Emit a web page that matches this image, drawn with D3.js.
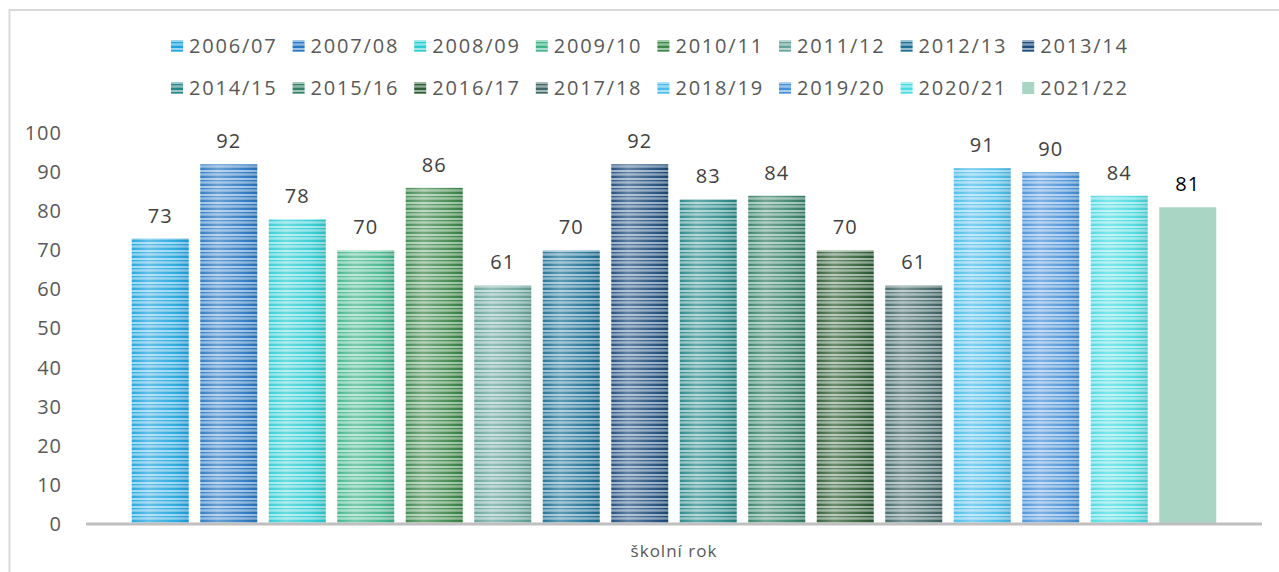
<!DOCTYPE html>
<html>
<head>
<meta charset="utf-8">
<script src="https://cdn.jsdelivr.net/npm/d3@7"></script>
<style>
  body { margin: 0; background: #fff; }
  svg { display: block; font-family: "Open Sans", sans-serif; }
</style>
</head>
<body>
<svg id="chart" width="1279" height="572"></svg>
<script>
// school years (series) and values
var years = ["2006/07","2007/08","2008/09","2009/10","2010/11","2011/12","2012/13","2013/14",
             "2014/15","2015/16","2016/17","2017/18","2018/19","2019/20","2020/21","2021/22"];
var values = [73, 92, 78, 70, 86, 61, 70, 92, 83, 84, 70, 61, 91, 90, 84, 81];
var colors = ["#1ea5e0","#2877c3","#2acdd4","#40b58a","#3a8748","#64a39a","#1b6f96","#1b4b7c",
              "#258787","#348067","#2b5c33","#406666","#48bcea","#4690da","#48dbe2","#a8d5c4"];
var yTicks = [0, 10, 20, 30, 40, 50, 60, 70, 80, 90, 100];
var xTitle = "školní rok";

var svg = d3.select("#chart");
var defs = svg.append("defs");

// chart frame
svg.append("rect")
  .attr("x", 9.5).attr("y", 10).attr("width", 1290).attr("height", 580)
  .attr("fill", "none").attr("stroke", "#d9d9d9").attr("stroke-width", 2);

// striped fills, last year is plain
var gloss = defs.append("linearGradient").attr("id", "gloss")
  .attr("x1", "0").attr("x2", "1").attr("y1", "0").attr("y2", "0");
gloss.append("stop").attr("offset", "0").attr("stop-color", "#fff").attr("stop-opacity", 0.05);
gloss.append("stop").attr("offset", "0.3").attr("stop-color", "#fff").attr("stop-opacity", 0.3);
gloss.append("stop").attr("offset", "0.75").attr("stop-color", "#fff").attr("stop-opacity", 0.08);
gloss.append("stop").attr("offset", "1").attr("stop-color", "#000").attr("stop-opacity", 0.08);

colors.forEach(function(c, i){
  var p = defs.append("pattern").attr("id", "stripe" + i)
    .attr("patternUnits", "userSpaceOnUse").attr("width", 8).attr("height", 8);
  p.append("rect").attr("width", 8).attr("height", 8).attr("fill", c);
  p.append("rect").attr("y", 2).attr("width", 8).attr("height", 2).attr("fill", "#fff").attr("opacity", 0.55);
  p.append("rect").attr("y", 5).attr("width", 8).attr("height", 1.5).attr("fill", "#fff").attr("opacity", 0.35);
  p.append("rect").attr("y", 6.5).attr("width", 8).attr("height", 1).attr("fill", "#fff").attr("opacity", 0.65);
});
function fillFor(i){ return i === colors.length - 1 ? colors[i] : "url(#stripe" + i + ")"; }

// scales
var x = d3.scaleBand().domain(years).range([86, 1262]).paddingInner(0.168).paddingOuter(0.668);
var y = d3.scaleLinear().domain([0, 100]).range([524, 133]);

// y axis labels
var yAxis = svg.append("g").attr("transform", "translate(62,0)")
  .call(d3.axisLeft(y).tickValues(yTicks).tickSize(0).tickPadding(0));
yAxis.select(".domain").remove();
yAxis.selectAll("text").attr("font-size", 20).attr("fill", "#595959")
  .attr("letter-spacing", 1).attr("font-family", "Open Sans, sans-serif");

// bars
var bars = svg.append("g").selectAll("g").data(years).enter().append("g");
bars.append("rect")
  .attr("x", function(d){ return x(d); })
  .attr("y", function(d, i){ return y(values[i]); })
  .attr("width", x.bandwidth())
  .attr("height", function(d, i){ return y(0) - y(values[i]); })
  .attr("fill", function(d, i){ return fillFor(i); });
bars.filter(function(d, i){ return i < colors.length - 1; }).append("rect")
  .attr("x", function(d){ return x(d); })
  .attr("y", function(d){ return y(values[years.indexOf(d)]); })
  .attr("width", x.bandwidth())
  .attr("height", function(d){ return y(0) - y(values[years.indexOf(d)]); })
  .attr("fill", "url(#gloss)");

// value labels
bars.append("text")
  .attr("x", function(d){ return x(d) + x.bandwidth() / 2; })
  .attr("y", function(d, i){ return y(values[i]) - 16; })
  .attr("text-anchor", "middle")
  .attr("font-size", 20)
  .attr("letter-spacing", 1)
  .attr("fill", function(d, i){ return i === years.length - 1 ? "#000" : "#404040"; })
  .text(function(d, i){ return values[i]; });

// x axis line
svg.append("line").attr("x1", 86).attr("x2", 1262).attr("y1", 524).attr("y2", 524)
  .attr("stroke", "#bfbfbf").attr("stroke-width", 3);

// x axis title
svg.append("text").attr("x", 674).attr("y", 557).attr("text-anchor", "middle")
  .attr("font-size", 17).attr("letter-spacing", 1).attr("fill", "#595959").text(xTitle);

// legend: 8 columns, 2 rows
var cols = 8;
var lx = d3.scaleBand().domain(d3.range(cols)).range([171, 171 + 121.6 * cols]);
var legend = svg.append("g").selectAll("g").data(years).enter().append("g")
  .attr("transform", function(d, i){
    return "translate(" + lx(i % cols) + "," + (i < cols ? 46 : 88) + ")";
  });
legend.append("rect").attr("x", 0).attr("y", -6).attr("width", 12).attr("height", 12)
  .attr("fill", function(d, i){ return fillFor(i); });
legend.append("text").attr("x", 18).attr("y", 7).attr("font-size", 20).attr("letter-spacing", 1.8)
  .attr("fill", "#595959")
  .text(function(d){ return d; });
</script>
</body>
</html>
